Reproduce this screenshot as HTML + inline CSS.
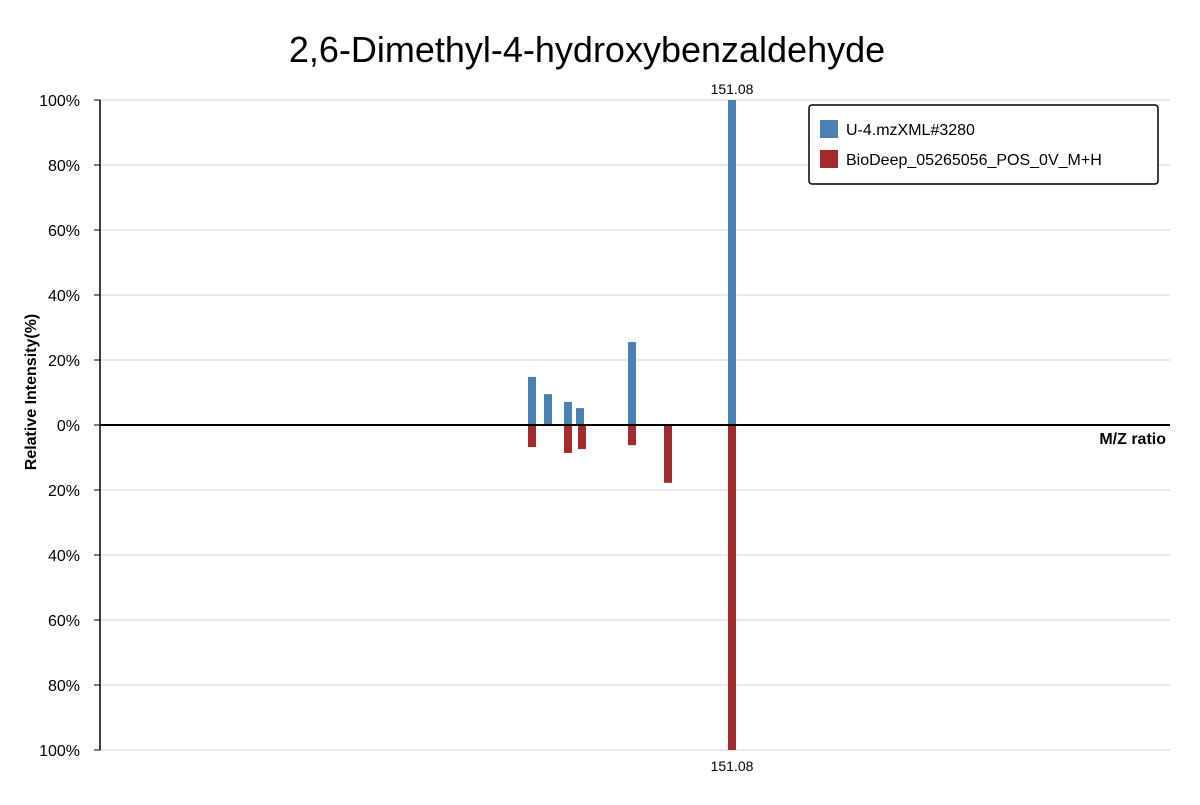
<!DOCTYPE html>
<html><head><meta charset="utf-8"><style>
body{margin:0;background:#fff;font-family:"Liberation Sans",sans-serif;}
svg text{font-family:"Liberation Sans",sans-serif;}
</style></head><body>
<svg id="chart" width="1200" height="800" xmlns="http://www.w3.org/2000/svg">
<text x="587" y="62" font-size="36" text-anchor="middle" fill="#000">2,6-Dimethyl-4-hydroxybenzaldehyde</text>
<g id="grid"></g>
<g id="yticks"></g>
<g id="bars"></g>
<line x1="100" y1="100" x2="100" y2="750" stroke="#000" stroke-width="1.5"/>
<line x1="100" y1="425" x2="1170" y2="425" stroke="#000" stroke-width="2"/>
<text x="1166" y="444" font-size="16" font-weight="bold" text-anchor="end">M/Z ratio</text>
<text transform="translate(36,392) rotate(-90)" font-size="16" font-weight="bold" text-anchor="middle">Relative Intensity(%)</text>
<g>
<rect x="809" y="105" width="349" height="79" rx="3" fill="#fff" stroke="#000" stroke-width="1.5"/>
<rect x="820" y="120" width="18" height="18" fill="#4682b4"/>
<text x="846" y="135" font-size="16">U-4.mzXML#3280</text>
<rect x="820" y="150" width="18" height="18" fill="#a52a2a"/>
<text x="846" y="165" font-size="16">BioDeep_05265056_POS_0V_M+H</text>
</g>
</svg>
<script>
const topMz=[126.08,128.08,130.58,132.08,138.58,151.08];
const topInt=[14.8,9.5,7.1,5.2,25.5,100];
const botMz=[126.08,130.58,132.33,138.58,143.08,151.08];
const botInt=[6.8,8.6,7.4,6.2,17.8,100];
const yTicks=[100,80,60,40,20,0,20,40,60,80,100];
const labelMz=151.08;
const NS="http://www.w3.org/2000/svg";
const xMin=72.08,xMax=205.83;
function xs(m){return 100+(m-xMin)/(xMax-xMin)*1070;}
function ys(v){return 425-v*3.25;}
function mk(t,a,p){const e=document.createElementNS(NS,t);for(const k in a)e.setAttribute(k,a[k]);p.appendChild(e);return e;}
const grid=document.getElementById('grid'),yt=document.getElementById('yticks'),bars=document.getElementById('bars');
yTicks.forEach((v,i)=>{
 const sv=i<5?v:(i==5?0:-v);
 const y=ys(sv);
 const g=mk('line',{x1:100,x2:1170,y1:y,y2:y,stroke:'#e0e0e0','stroke-width':1.5},grid);
 
 
 const tk=mk('line',{x1:94,x2:100,y1:y,y2:y,stroke:'#000'},yt);
 
 
 const t=mk('text',{x:80,y:y+6,'font-size':16,'text-anchor':'end'},yt);t.textContent=v+'%';
 
 
});
topMz.forEach((m,i)=>{
 const x=xs(m),h=topInt[i]*3.25;
 const r=mk('rect',{x:x-4,y:425-h,width:8,height:h,fill:'#4682b4'},bars);
 
 
});
botMz.forEach((m,i)=>{
 const x=xs(m),h=botInt[i]*3.25;
 const r=mk('rect',{x:x-4,y:425,width:8,height:h,fill:'#a52a2a'},bars);
 
 
});
const t1=mk('text',{x:xs(labelMz),y:ys(100)-6,'font-size':14,'text-anchor':'middle'},bars);t1.textContent=labelMz.toFixed(2);


const t2=mk('text',{x:xs(labelMz),y:ys(-100)+21,'font-size':14,'text-anchor':'middle'},bars);t2.textContent=labelMz.toFixed(2);


</script>
</body></html>
